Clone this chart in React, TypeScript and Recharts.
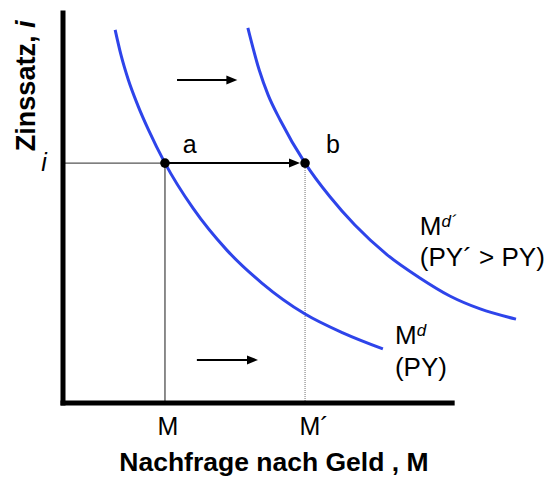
import React from 'react';
import { LineChart, Line, XAxis, YAxis, ReferenceLine, ReferenceDot } from 'recharts';

// Money demand curves (M = quantity of money, i = interest rate)
const mdCurve = [
  { m: 13.4, i: 95.2 },
  { m: 14.9, i: 88.8 },
  { m: 16.8, i: 82.4 },
  { m: 19.2, i: 76.0 },
  { m: 22.0, i: 69.6 },
  { m: 26.2, i: 61.2 },
  { m: 33.4, i: 49.7 },
  { m: 42.1, i: 39.0 },
  { m: 51.1, i: 30.6 },
  { m: 62.2, i: 22.7 },
  { m: 71.9, i: 17.9 },
  { m: 82.2, i: 13.8 },
];

const mdPrimeCurve = [
  { m: 47.5, i: 95.7 },
  { m: 50.4, i: 85.0 },
  { m: 52.7, i: 78.6 },
  { m: 55.8, i: 72.2 },
  { m: 62.2, i: 61.2 },
  { m: 68.6, i: 52.6 },
  { m: 75.0, i: 45.4 },
  { m: 83.3, i: 37.8 },
  { m: 91.7, i: 31.9 },
  { m: 99.4, i: 27.3 },
  { m: 107.2, i: 24.0 },
  { m: 116.4, i: 21.4 },
];

const interestRate = 61.2;
const moneyA = 26.2;
const moneyB = 62.2;
const xTicks = [moneyA, moneyB];
const xTickLabels = ['M', 'M\u00B4'];

const FONT = '"Liberation Sans", Arial, Helvetica, sans-serif';
const BLUE = '#2e44ea';

const textShape = (content: React.ReactNode, extra: any = {}) => (p: any) => (
  <text
    x={p.cx}
    y={p.cy}
    fontFamily={FONT}
    fontSize={26}
    fill="#000"
    textAnchor="start"
    {...extra}
  >
    {content}
  </text>
);

const arrowHead = (p: any) => (
  <path
    d={`M${p.cx},${p.cy} L${p.cx - 11},${p.cy - 4.5} L${p.cx - 11},${p.cy + 4.5} Z`}
    fill="#000"
  />
);

const dotShape = (p: any) => <circle cx={p.cx} cy={p.cy} r={4.8} fill="#000" />;

const renderTick = (props: any) => {
  const idx = xTicks.indexOf(props.payload.value);
  const dx = idx === 0 ? 3 : 9;
  return (
    <text
      x={props.x + dx}
      y={props.y + 30}
      textAnchor="middle"
      fontFamily={FONT}
      fontSize={25}
      fill="#000"
    >
      {xTickLabels[idx]}
    </text>
  );
};

export default function App() {
  return (
    <LineChart
      width={544}
      height={470}
      margin={{ top: 3, right: 22, bottom: 0, left: 55 }}
      style={{ background: '#fff' }}
    >
      <XAxis
        type="number"
        dataKey="m"
        domain={[0, 120]}
        ticks={xTicks}
        tick={renderTick}
        tickLine={false}
        tickSize={0}
        axisLine={false}
        height={75}
        allowDataOverflow
      />
      <YAxis type="number" dataKey="i" domain={[0, 100]} hide />

      {/* guide lines */}
      <ReferenceLine
        segment={[{ x: 0, y: interestRate }, { x: moneyA, y: interestRate }]}
        stroke="#555"
        strokeWidth={1.2}
        ifOverflow="visible"
      />
      <ReferenceLine
        segment={[{ x: moneyA, y: 0 }, { x: moneyA, y: interestRate }]}
        stroke="#666"
        strokeWidth={1.5}
        ifOverflow="visible"
      />
      <ReferenceLine
        segment={[{ x: moneyB, y: 0 }, { x: moneyB, y: interestRate }]}
        stroke="#888"
        strokeWidth={1.2}
        strokeDasharray="1 1"
        ifOverflow="visible"
      />

      {/* axes */}
      <ReferenceLine
        segment={[{ x: 0, y: 0 }, { x: 100, y: 0 }]}
        stroke="#000"
        strokeWidth={5}
        strokeLinecap="square"
        ifOverflow="visible"
      />
      <ReferenceLine
        segment={[{ x: 0, y: 0 }, { x: 0, y: 99.5 }]}
        stroke="#000"
        strokeWidth={5}
        strokeLinecap="square"
        ifOverflow="visible"
      />

      <Line
        data={mdCurve}
        dataKey="i"
        type="monotone"
        stroke={BLUE}
        strokeWidth={3}
        dot={false}
        isAnimationActive={false}
      />
      <Line
        data={mdPrimeCurve}
        dataKey="i"
        type="monotone"
        stroke={BLUE}
        strokeWidth={3}
        dot={false}
        isAnimationActive={false}
      />

      {/* arrow a -> b */}
      <ReferenceLine
        segment={[{ x: moneyA, y: interestRate }, { x: 59, y: interestRate }]}
        stroke="#000"
        strokeWidth={2}
        ifOverflow="visible"
      />
      <ReferenceDot x={60.9} y={interestRate} shape={arrowHead} ifOverflow="visible" />

      {/* shift arrows */}
      <ReferenceLine
        segment={[{ x: 29.3, y: 82.4 }, { x: 43, y: 82.4 }]}
        stroke="#000"
        strokeWidth={2}
        ifOverflow="visible"
      />
      <ReferenceDot x={44.8} y={82.4} shape={arrowHead} ifOverflow="visible" />
      <ReferenceLine
        segment={[{ x: 34.4, y: 11.0 }, { x: 48.3, y: 11.0 }]}
        stroke="#000"
        strokeWidth={2}
        ifOverflow="visible"
      />
      <ReferenceDot x={50.1} y={11.0} shape={arrowHead} ifOverflow="visible" />

      {/* equilibrium points */}
      <ReferenceDot x={moneyA} y={interestRate} shape={dotShape} ifOverflow="visible" />
      <ReferenceDot x={moneyB} y={interestRate} shape={dotShape} ifOverflow="visible" />

      {/* labels */}
      <ReferenceDot x={30.8} y={63.8} shape={textShape('a', { fontSize: 25 })} ifOverflow="visible" />
      <ReferenceDot x={67.6} y={63.8} shape={textShape('b', { fontSize: 25 })} ifOverflow="visible" />
      <ReferenceDot
        x={-4.9}
        y={59.2}
        shape={textShape('i', { fontSize: 25, fontStyle: 'italic', textAnchor: 'middle' })}
        ifOverflow="visible"
      />

      <ReferenceDot
        x={85.3}
        y={15.05}
        shape={textShape(
          <>
            <tspan>M</tspan>
            <tspan fontSize={17} fontStyle="italic" dy={-8}>d</tspan>
          </>
        )}
        ifOverflow="visible"
      />
      <ReferenceDot x={85.3} y={6.9} shape={textShape('(PY)')} ifOverflow="visible" />

      <ReferenceDot
        x={91.7}
        y={42.9}
        shape={textShape(
          <>
            <tspan>M</tspan>
            <tspan fontSize={17} fontStyle="italic" dy={-8}>d{'\u00B4'}</tspan>
          </>
        )}
        ifOverflow="visible"
      />
      <ReferenceDot
        x={91.7}
        y={34.9}
        shape={textShape('(PY\u00B4 > PY)')}
        ifOverflow="visible"
      />

      {/* axis titles */}
      <ReferenceDot
        x={54.2}
        y={-17.3}
        shape={textShape('Nachfrage nach Geld , M', {
          fontWeight: 'bold',
          fontSize: 26.5,
          textAnchor: 'middle',
        })}
        ifOverflow="visible"
      />
      <ReferenceDot
        x={-7.2}
        y={80.9}
        shape={(p: any) => (
          <text
            x={p.cx}
            y={p.cy}
            transform={`rotate(-90 ${p.cx} ${p.cy})`}
            textAnchor="middle"
            fontFamily={FONT}
            fontWeight="bold"
            fontSize={27}
            fill="#000"
          >
            Zinssatz, <tspan fontStyle="italic">i</tspan>
          </text>
        )}
        ifOverflow="visible"
      />
    </LineChart>
  );
}
